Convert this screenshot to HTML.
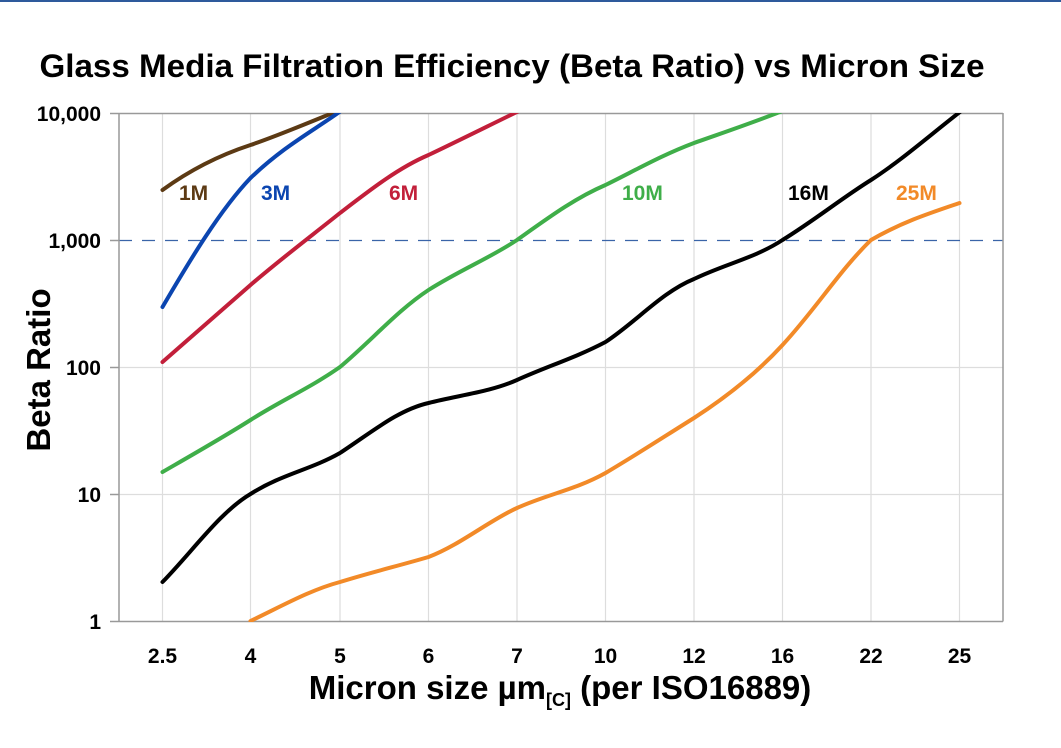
<!DOCTYPE html>
<html><head><meta charset="utf-8"><style>
html,body{margin:0;padding:0;background:#fff;}
svg{display:block;font-family:"Liberation Sans",Arial,sans-serif;}
</style></head><body>
<svg width="1061" height="748" viewBox="0 0 1061 748" xmlns="http://www.w3.org/2000/svg">
<rect x="0" y="0" width="1061" height="2" fill="#2e5a9c"/>
<text x="512" y="77" font-size="32" font-weight="bold" text-anchor="middle" textLength="945" lengthAdjust="spacingAndGlyphs">Glass Media Filtration Efficiency (Beta Ratio) vs Micron Size</text>
<defs><clipPath id="c"><rect x="119" y="113" width="884" height="509"/></clipPath></defs>
<g stroke="#dddddd" stroke-width="1.2">
<line x1="162.5" y1="113" x2="162.5" y2="621"/><line x1="250.5" y1="113" x2="250.5" y2="621"/>
<line x1="340" y1="113" x2="340" y2="621"/><line x1="428.5" y1="113" x2="428.5" y2="621"/>
<line x1="517" y1="113" x2="517" y2="621"/><line x1="605.5" y1="113" x2="605.5" y2="621"/>
<line x1="694" y1="113" x2="694" y2="621"/><line x1="782.5" y1="113" x2="782.5" y2="621"/>
<line x1="871" y1="113" x2="871" y2="621"/><line x1="959.5" y1="113" x2="959.5" y2="621"/>
<line x1="119" y1="367.5" x2="1003" y2="367.5"/><line x1="119" y1="494.5" x2="1003" y2="494.5"/>
</g>
<line x1="119" y1="240.5" x2="1003" y2="240.5" stroke="#3a64a8" stroke-width="1.3" stroke-dasharray="13,10"/>
<g fill="none" stroke="#999" stroke-width="1.5">
<line x1="119" y1="113.5" x2="1003" y2="113.5"/>
<line x1="1003" y1="113" x2="1003" y2="621.5"/>
<line x1="119" y1="113" x2="119" y2="621.5"/>
<line x1="110" y1="621.5" x2="1003" y2="621.5"/>
<line x1="110" y1="113.5" x2="119" y2="113.5"/><line x1="110" y1="240.5" x2="119" y2="240.5"/>
<line x1="110" y1="367.5" x2="119" y2="367.5"/><line x1="110" y1="494.5" x2="119" y2="494.5"/>
</g>
<g clip-path="url(#c)" fill="none" stroke-width="4" stroke-linecap="round" stroke-linejoin="round">
<path stroke="#5c3a14" d="M162.5,190 C190,170 220,155 250.5,145 C280,135 310,122 345,108"/>
<path stroke="#0b45b0" d="M162.5,307 C190,260 220,210 250.5,178 C285,145 315,130 345,108"/>
<path stroke="#c21f3a" d="M162.5,362 C192,336 222,310 250.5,285 C282,258 310,237 340,213 C370,190 398,168 428.5,155 C460,140 490,125 525,108"/>
<path stroke="#3fae49" d="M162.5,472 C192,455 222,438 250.5,420 C282,400 310,388 340,367 C372,340 398,310 428.5,290 C460,270 490,258 517,240 C548,218 575,198 605.5,185 C636,170 662,155 694,143 C725,132 755,122 790,108"/>
<path stroke="#000" d="M162.5,582 C192,552 220,512 250.5,494 C282,474 310,470 340,453 C372,432 398,410 428.5,403 C460,395 490,392 517,380 C548,366 575,358 605.5,342 C636,322 662,292 694,279 C725,264 755,258 782.5,240 C815,220 842,198 871,180 C902,160 930,135 965,108"/>
<path stroke="#f28a28" d="M250.5,621 C282,606 310,590 340,582 C372,572 398,566 428.5,557 C460,545 490,520 517,508 C548,494 575,490 605.5,473 C636,455 662,438 694,418 C725,398 755,375 782.5,345 C815,310 840,270 871,240 C902,222 930,213 959.5,203"/>
</g>
<g font-size="21" font-weight="bold">
<text x="179" y="200" fill="#5c3a14">1M</text>
<text x="261" y="200" fill="#0b45b0">3M</text>
<text x="389" y="200" fill="#c21f3a">6M</text>
<text x="622" y="200" fill="#3fae49">10M</text>
<text x="788" y="200" fill="#000">16M</text>
<text x="896" y="200" fill="#f28a28">25M</text>
</g>
<g font-size="21" font-weight="bold" text-anchor="end">
<text x="101" y="121">10,000</text><text x="101" y="248">1,000</text>
<text x="101" y="375">100</text><text x="101" y="502">10</text><text x="101" y="629">1</text>
</g>
<g font-size="21" font-weight="bold" text-anchor="middle">
<text x="162.5" y="663">2.5</text><text x="250.5" y="663">4</text><text x="340" y="663">5</text>
<text x="428.5" y="663">6</text><text x="517" y="663">7</text><text x="605.5" y="663">10</text>
<text x="694" y="663">12</text><text x="782.5" y="663">16</text><text x="871" y="663">22</text><text x="959.5" y="663">25</text>
</g>
<text x="560" y="699" font-size="33" font-weight="bold" text-anchor="middle">Micron size µm<tspan font-size="18" dy="7">[C]</tspan><tspan dy="-7"> (per ISO16889)</tspan></text>
<text transform="translate(50,370) rotate(-90)" font-size="33" font-weight="bold" text-anchor="middle">Beta Ratio</text>
</svg>
</body></html>
